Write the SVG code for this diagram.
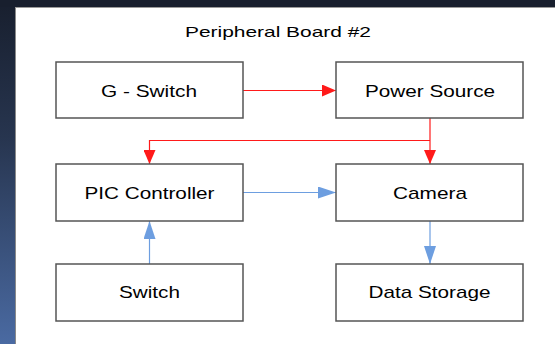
<svg xmlns="http://www.w3.org/2000/svg" width="555" height="344" viewBox="0 0 555 344">
<defs>
<linearGradient id="bg" x1="0" y1="0" x2="0" y2="1">
<stop offset="0" stop-color="#181f2e"/>
<stop offset="0.4" stop-color="#27354f"/>
<stop offset="1" stop-color="#4a6aa2"/>
</linearGradient>
<marker id="ar" markerWidth="14" markerHeight="12" refX="14" refY="6" orient="auto" markerUnits="userSpaceOnUse">
<path d="M0,0 L14,6 L0,12 Z" fill="#ff1a1a"/>
</marker>
<marker id="ab" markerWidth="18" markerHeight="12" refX="18" refY="6" orient="auto" markerUnits="userSpaceOnUse">
<path d="M0,0 L18,6 L0,12 Z" fill="#6d9ee0"/>
</marker>
</defs>
<style>
.box{fill:#ffffff;stroke:#555555;stroke-width:1.5}
.lbl{font-family:"Liberation Sans",Arial,sans-serif;font-size:17px;fill:#000;text-anchor:middle}
.red{fill:none;stroke:#ff1a1a;stroke-width:1.2}
.blue{fill:none;stroke:#6d9ee0;stroke-width:1.2}
</style>
<rect x="0" y="0" width="555" height="344" fill="url(#bg)"/>
<rect x="0" y="0" width="555" height="7" fill="#181f2e"/>
<rect x="15" y="7" width="540" height="337" fill="#ffffff"/>
<line x1="15.5" y1="7" x2="15.5" y2="344" stroke="#8a8a8a" stroke-width="1"/>
<line x1="15" y1="7.5" x2="555" y2="7.5" stroke="#9a9a9a" stroke-width="1"/>
<text x="278" y="37" font-family="Liberation Sans, Arial, sans-serif" font-size="15" text-anchor="middle" fill="#000" textLength="186" lengthAdjust="spacingAndGlyphs">Peripheral Board #2</text>
<g id="connectors">
<line class="red" x1="243" y1="90.5" x2="336" y2="90.5" marker-end="url(#ar)"/>
<line class="red" x1="430" y1="118" x2="430" y2="164" marker-end="url(#ar)"/>
<polyline class="red" points="430,140.5 149.5,140.5 149.5,164" marker-end="url(#ar)"/>
<line class="blue" x1="243" y1="192.5" x2="336" y2="192.5" marker-end="url(#ab)"/>
<line class="blue" x1="149.5" y1="264" x2="149.5" y2="221" marker-end="url(#ab)"/>
<line class="blue" x1="430" y1="221" x2="430" y2="264" marker-end="url(#ab)"/>
</g>
<g id="gswitch"><rect class="box" x="56" y="62" width="187" height="56"/><text class="lbl" x="149" y="96.5" textLength="96" lengthAdjust="spacingAndGlyphs">G - Switch</text></g>
<g id="power"><rect class="box" x="336" y="62" width="187" height="56"/><text class="lbl" x="430" y="96.5" textLength="130" lengthAdjust="spacingAndGlyphs">Power Source</text></g>
<g id="pic"><rect class="box" x="56" y="164" width="187" height="57"/><text class="lbl" x="149.5" y="198.5" textLength="130" lengthAdjust="spacingAndGlyphs">PIC Controller</text></g>
<g id="camera"><rect class="box" x="336" y="164" width="187" height="57"/><text class="lbl" x="430" y="198.5" textLength="74" lengthAdjust="spacingAndGlyphs">Camera</text></g>
<g id="switch"><rect class="box" x="56" y="264" width="187" height="57"/><text class="lbl" x="149.5" y="297.5" textLength="61" lengthAdjust="spacingAndGlyphs">Switch</text></g>
<g id="storage"><rect class="box" x="336" y="264" width="187" height="57"/><text class="lbl" x="429.5" y="297.5" textLength="122" lengthAdjust="spacingAndGlyphs">Data Storage</text></g>
</svg>
